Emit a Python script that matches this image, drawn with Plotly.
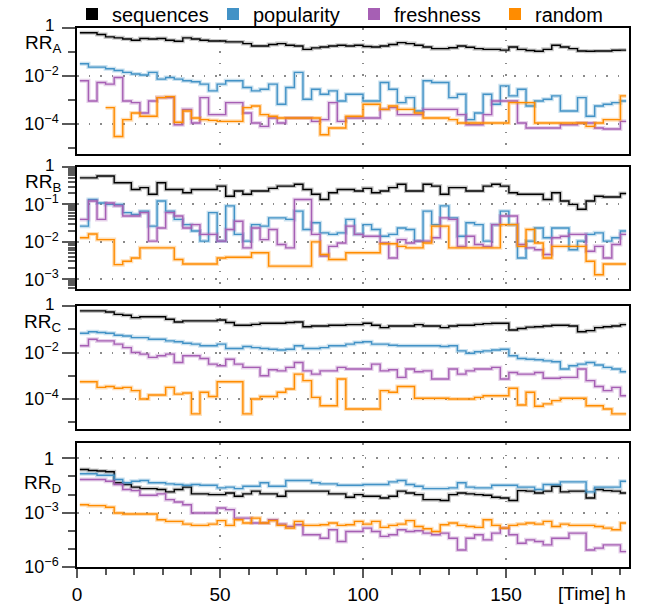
import numpy as np
import plotly.graph_objects as go

# ---------------- data (log10 of RR) ----------------
hours = list(range(1, 191, 3))          # sample times [h]
END_H = 192                             # last step ends here

series_names = ["sequences", "popularity", "freshness", "random"]
colors = ["#000000", "#4292c6", "#a65fb4", "#ff8c00"]
halo = ["rgba(0,0,0,0.22)", "rgba(66,146,198,0.28)", "rgba(166,95,180,0.28)", "rgba(255,140,0,0.28)"]

A_sequences = [-0.20, -0.20, -0.27, -0.37, -0.41, -0.46, -0.51, -0.44, -0.46, -0.44,
               -0.51, -0.55, -0.41, -0.46, -0.51, -0.54, -0.54, -0.58, -0.58, -0.65,
               -0.75, -0.75, -0.69, -0.65, -0.72, -0.75, -0.89, -0.83, -0.79, -0.75,
               -0.72, -0.75, -0.72, -0.77, -0.79, -0.75, -0.69, -0.61, -0.65, -0.72,
               -0.79, -0.86, -0.86, -0.82, -0.75, -0.80, -0.86, -0.89, -0.89, -0.92,
               -0.79, -0.89, -0.94, -0.97, -0.89, -0.72, -0.79, -0.86, -0.96, -0.97,
               -0.96, -0.96, -0.93, -0.92]
A_popularity = [-1.49, -1.63, -1.63, -1.70, -1.77, -1.85, -1.92, -1.96, -1.85, -2.13,
                -2.06, -2.13, -2.20, -2.24, -2.34, -2.62, -2.34, -2.20, -2.20, -2.48,
                -2.62, -2.55, -2.34, -3.18, -2.48, -1.85, -2.97, -2.55, -2.76, -2.62,
                -3.04, -2.76, -2.76, -3.04, -3.04, -2.27, -2.55, -3.11, -2.90, -3.46,
                -2.20, -2.27, -2.27, -2.90, -2.76, -3.82, -3.54, -2.76, -3.18, -2.41,
                -2.83, -2.55, -3.25, -3.04, -2.97, -2.83, -3.46, -3.46, -2.90, -3.68,
                -3.25, -3.18, -3.11, -3.04]
A_freshness = [-2.20, -3.04, -2.27, -2.34, -2.06, -3.04, -3.11, -3.54, -3.04, -2.90,
               -2.90, -4.03, -3.39, -3.96, -2.90, -3.61, -3.61, -3.11, -3.11, -3.54,
               -3.96, -4.10, -3.75, -3.96, -3.75, -3.75, -3.75, -3.89, -3.82, -3.11,
               -3.89, -3.75, -3.75, -3.75, -3.75, -3.39, -3.32, -3.61, -3.61, -3.61,
               -3.39, -3.39, -3.39, -3.39, -3.61, -4.03, -4.03, -3.61, -3.04, -3.04,
               -3.04, -3.96, -4.17, -4.17, -4.17, -4.17, -4.03, -4.03, -3.96, -3.96,
               -4.17, -4.21, -4.21, -3.89]
A_random = [None, None, None, -3.32, -4.52, -3.82, -3.54, -3.68, -3.68, -2.90,
            -2.86, -3.93, -3.46, -3.75, -3.82, -3.85, -3.89, -3.89, -3.89, -3.32,
            -3.25, -3.61, -3.68, -3.75, -3.75, -3.75, -3.75, -3.75, -4.45, -4.17,
            -4.17, -3.68, -3.68, -3.18, -3.18, -3.39, -3.25, -3.39, -3.39, -3.54,
            -3.75, -3.75, -3.75, -3.82, -3.96, -3.96, -3.96, -3.96, -3.96, -3.96,
            -3.11, -3.11, -3.11, -3.96, -3.96, -3.96, -3.96, -3.96, -3.96, -4.10,
            -3.96, -3.82, -3.82, -2.83]

B_sequences = [-0.29, -0.29, -0.24, -0.24, -0.42, -0.42, -0.60, -0.55, -0.73, -0.42,
               -0.60, -0.60, -0.69, -0.60, -0.60, -0.60, -0.51, -0.78, -0.64, -0.73,
               -0.64, -0.64, -0.57, -0.51, -0.51, -0.46, -0.60, -0.73, -0.87, -0.69,
               -0.60, -0.60, -0.64, -0.57, -0.69, -0.64, -0.55, -0.46, -0.64, -0.64,
               -0.46, -0.51, -0.73, -0.55, -0.55, -0.64, -0.64, -0.51, -0.46, -0.51,
               -0.69, -0.73, -0.73, -0.73, -0.87, -0.69, -0.91, -1.00, -1.13, -0.91,
               -0.78, -0.80, -0.80, -0.71]
B_popularity = [-1.58, -0.87, -0.96, -1.00, -1.00, -1.22, -1.27, -1.18, -1.58, -0.91,
                -1.18, -1.40, -1.54, -1.71, -1.98, -1.22, -1.98, -1.04, -1.80, -1.98,
                -1.54, -1.58, -1.36, -1.36, -1.40, -1.18, -1.67, -1.49, -1.76, -1.80,
                -1.76, -1.40, -1.80, -1.54, -1.67, -1.85, -1.80, -1.63, -1.67, -1.98,
                -1.18, -1.54, -1.04, -1.36, -1.85, -1.49, -1.54, -1.98, -1.54, -1.18,
                -1.54, -2.43, -1.98, -1.63, -1.89, -1.63, -1.63, -2.21, -1.98, -1.80,
                -1.76, -1.98, -1.89, -1.71]
B_freshness = [-1.40, -0.91, -1.40, -0.96, -1.04, -1.31, -1.31, -1.22, -1.98, -1.63,
               -1.22, -1.31, -1.63, -1.54, -1.80, -1.80, -1.98, -1.67, -1.45, -2.16,
               -1.63, -1.94, -1.67, -2.07, -2.16, -0.87, -0.87, -1.80, -2.38, -2.12,
               -2.03, -1.58, -1.80, -1.85, -1.85, -2.03, -2.43, -1.94, -2.03, -1.98,
               -1.98, -1.89, -1.36, -1.40, -2.12, -1.85, -2.07, -2.12, -1.54, -1.31,
               -1.31, -2.07, -2.16, -2.21, -2.34, -1.89, -1.85, -1.80, -1.80, -2.25,
               -2.12, -2.43, -2.07, -1.80]
B_random = [-1.89, -1.79, -1.94, -1.94, -2.61, -2.52, -2.43, -2.16, -2.16, -2.16,
            -2.16, -2.47, -2.59, -2.59, -2.59, -2.59, -2.43, -2.41, -2.41, -2.41,
            -2.29, -2.29, -2.65, -2.65, -2.65, -2.65, -2.65, -2.00, -2.34, -2.47,
            -2.47, -2.29, -2.29, -2.29, -2.29, -2.05, -2.05, -2.12, -2.16, -2.16,
            -2.03, -1.58, -1.58, -2.16, -2.16, -2.16, -2.16, -2.16, -2.16, -1.54,
            -1.54, -2.12, -1.67, -2.03, -2.43, -2.12, -2.12, -2.12, -2.12, -2.52,
            -2.88, -2.59, -2.59, -2.59]

C_sequences = [-0.21, -0.21, -0.21, -0.26, -0.36, -0.40, -0.50, -0.46, -0.46, -0.46,
               -0.57, -0.69, -0.64, -0.64, -0.64, -0.64, -0.60, -0.71, -0.83, -0.83,
               -0.79, -0.74, -0.74, -0.74, -0.71, -0.69, -0.89, -0.86, -0.86, -0.83,
               -0.83, -0.80, -0.80, -0.74, -0.83, -0.93, -0.86, -0.86, -0.86, -0.80,
               -0.86, -0.86, -0.93, -0.86, -0.83, -0.83, -0.79, -0.76, -0.74, -0.74,
               -1.03, -0.97, -0.91, -0.89, -0.86, -0.83, -0.83, -0.86, -1.11, -1.06,
               -0.93, -0.89, -0.86, -0.80]
C_popularity = [-1.17, -1.11, -1.14, -1.17, -1.26, -1.29, -1.36, -1.36, -1.43, -1.43,
                -1.50, -1.54, -1.60, -1.64, -1.71, -1.71, -1.64, -1.83, -1.83, -1.74,
                -1.79, -1.83, -1.86, -1.89, -1.86, -1.71, -1.83, -1.83, -1.79, -1.71,
                -1.71, -1.64, -1.57, -1.54, -1.64, -1.64, -1.69, -1.71, -1.71, -1.71,
                -1.71, -1.71, -1.74, -1.71, -1.93, -2.03, -1.97, -1.93, -1.89, -1.86,
                -2.14, -2.26, -2.29, -2.31, -2.36, -2.40, -2.71, -2.57, -2.50, -2.43,
                -2.54, -2.64, -2.71, -2.83]
C_freshness = [-1.71, -1.43, -1.50, -1.50, -1.64, -1.79, -2.00, -2.07, -2.21, -2.14,
               -2.07, -2.43, -2.14, -2.14, -2.26, -2.50, -2.57, -2.29, -2.50, -2.64,
               -2.64, -3.00, -2.74, -2.79, -2.64, -2.43, -2.79, -2.93, -2.79, -2.79,
               -2.64, -2.71, -2.71, -2.71, -2.50, -2.79, -2.74, -3.07, -2.71, -2.83,
               -2.79, -3.14, -3.14, -2.71, -2.93, -2.79, -2.71, -2.71, -2.64, -3.14,
               -2.86, -2.93, -2.93, -2.86, -3.11, -3.11, -3.07, -3.07, -2.71, -3.21,
               -3.46, -3.64, -3.50, -3.86]
C_random = [-3.26, -3.26, -3.50, -3.46, -3.54, -3.50, -3.64, -4.00, -3.83, -3.83,
            -3.50, -3.79, -3.74, -4.64, -3.71, -3.89, -3.26, -3.26, -3.26, -4.64,
            -4.00, -3.89, -3.89, -3.71, -3.57, -2.93, -3.21, -3.93, -4.29, -4.29,
            -3.14, -4.43, -4.43, -4.43, -4.43, -3.64, -3.71, -3.46, -3.46, -3.97,
            -3.97, -3.97, -3.97, -4.00, -4.00, -4.00, -3.93, -3.86, -3.86, -3.86,
            -3.54, -4.26, -3.71, -4.31, -4.21, -4.07, -3.97, -3.97, -3.97, -4.29,
            -4.29, -4.43, -4.64, -4.64]

D_sequences = [-0.61, -0.67, -0.70, -0.74, -1.35, -1.44, -1.59, -1.67, -1.67, -1.72,
               -1.85, -1.72, -1.59, -1.96, -1.96, -2.00, -2.00, -1.91, -2.09, -1.96,
               -1.81, -1.96, -1.96, -2.09, -1.81, -1.81, -1.81, -1.81, -1.81, -1.96,
               -1.96, -2.15, -2.00, -2.09, -2.09, -2.19, -2.09, -1.81, -1.91, -2.00,
               -2.28, -2.28, -2.33, -2.00, -1.91, -1.96, -2.00, -2.04, -2.15, -2.19,
               -2.33, -1.78, -1.81, -1.91, -1.81, -1.54, -1.85, -1.81, -1.81, -2.19,
               -1.72, -1.78, -1.81, -1.91]
D_popularity = [-0.85, -0.85, -0.93, -0.93, -1.17, -1.35, -1.26, -1.22, -1.35, -1.35,
                -1.41, -1.44, -1.48, -1.44, -1.48, -1.48, -1.63, -1.59, -1.67, -1.54,
                -1.54, -1.35, -1.54, -1.54, -1.22, -1.22, -1.22, -1.35, -1.41, -1.41,
                -1.48, -1.48, -1.48, -1.44, -1.44, -1.44, -1.30, -1.22, -1.44, -1.54,
                -1.67, -1.67, -1.67, -1.63, -1.35, -1.59, -1.63, -1.63, -1.48, -1.48,
                -1.48, -1.59, -1.59, -1.72, -1.44, -1.44, -1.30, -1.30, -1.30, -1.85,
                -1.59, -1.59, -1.59, -1.26]
D_freshness = [-1.17, -1.17, -1.17, -1.26, -1.44, -1.72, -1.78, -2.04, -2.04, -1.96,
               -2.28, -2.41, -2.56, -3.02, -3.02, -3.02, -2.74, -2.83, -3.30, -3.30,
               -3.57, -3.57, -3.39, -3.63, -3.76, -3.67, -4.22, -4.22, -4.41, -3.94,
               -4.59, -4.04, -4.04, -3.85, -4.04, -4.31, -4.22, -3.94, -4.04, -4.00,
               -4.13, -4.22, -4.13, -4.41, -5.06, -4.41, -4.22, -4.50, -4.13, -3.85,
               -4.22, -4.69, -4.50, -4.59, -4.78, -4.41, -4.41, -4.13, -4.13, -5.06,
               -4.96, -4.78, -4.78, -5.15]
D_random = [-2.56, -2.61, -2.61, -2.70, -3.02, -3.07, -3.07, -3.07, -3.07, -3.39,
            -3.48, -3.48, -3.63, -3.70, -3.70, -3.63, -3.44, -3.70, -3.39, -3.57,
            -3.30, -3.57, -3.44, -3.70, -3.85, -3.48, -3.70, -3.70, -3.67, -3.57,
            -3.70, -3.67, -3.48, -3.63, -3.48, -3.81, -3.70, -3.63, -3.44, -3.76,
            -3.89, -4.04, -3.67, -3.57, -3.70, -3.76, -3.81, -3.39, -3.70, -3.85,
            -3.70, -3.63, -3.57, -3.63, -3.48, -3.76, -3.63, -3.70, -3.70, -3.70,
            -3.76, -3.85, -3.94, -3.57]

panels = [
    ("A", [A_sequences, A_popularity, A_freshness, A_random]),
    ("B", [B_sequences, B_popularity, B_freshness, B_random]),
    ("C", [C_sequences, C_popularity, C_freshness, C_random]),
    ("D", [D_sequences, D_popularity, D_freshness, D_random]),
]

# ---------------- layout geometry ----------------
W, H = 646, 605
ML, MR, MT, MB = 77, 17, 28, 38
PW, PH = W - ML - MR, H - MT - MB


def ypaper(pix):
    return (H - MB - pix) / PH


def xpaper(pix):
    return (pix - ML) / PW


domains = {
    "A": [ypaper(153.5), ypaper(28)],
    "B": [ypaper(289), ypaper(167)],
    "C": [ypaper(429), ypaper(306)],
    "D": [ypaper(567), ypaper(443)],
}
yranges = {"A": [-5.23, 0], "B": [-3.26, 0], "C": [-5.29, 0], "D": [-6, 0.85]}

sup = lambda e: "10<sup>\u2212%d</sup>" % e
ymajor = {
    "A": ([1, 1e-2, 1e-4], ["", sup(2), sup(4)]),
    "B": ([1, 1e-1, 1e-2, 1e-3], ["", sup(1), sup(2), sup(3)]),
    "C": ([1, 1e-2, 1e-4], ["", sup(2), sup(4)]),
    "D": ([1, 1e-3, 1e-6], ["", sup(3), sup(6)]),
}
yminor = {
    "A": [1e-1, 1e-3, 1e-5],
    "B": [k * 10.0 ** d for d in (-1, -2, -3, -4) for k in range(2, 10)],
    "C": [1e-1, 1e-3, 1e-5],
    "D": [1e-1, 1e-2, 1e-4, 1e-5],
}
# position of the "1" label of each panel (pixel y) and of the RR label
one_y = {"A": 26, "B": 165, "C": 304, "D": 459}
label_y = {"A": 44, "B": 183, "C": 323, "D": 484}

FONT = "Liberation Sans, Arial, Helvetica, sans-serif"
TICKC = "#595959"
GRIDC = "#8a8a8a"
GRIDDASH = "1.5px,10px"

fig = go.Figure()

for i, (key, series) in enumerate(panels):
    ax = "" if i == 0 else str(i + 1)
    xref, yref = "x" + ax, "y" + ax
    for s, vals in enumerate(series):
        n = len(vals)
        xs = hours[:n] + [END_H]
        logs = vals + [vals[-1]]
        ys = [None if v is None else 10.0 ** v for v in logs]
        fig.add_trace(go.Scatter(x=xs, y=ys, mode="lines", line=dict(color=halo[s], width=4, shape="hv"),
                                 xaxis=xref, yaxis=yref, showlegend=False, hoverinfo="skip"))
        fig.add_trace(go.Scatter(x=xs, y=ys, mode="lines", line=dict(color=colors[s], width=1.4, shape="hv"),
                                 xaxis=xref, yaxis=yref, showlegend=False, name=series_names[s]))

    last = (i == 3)
    xa = dict(domain=[0, 1], range=[0, 193], anchor=yref, showline=True, linecolor="black",
              linewidth=1.5, mirror=True, zeroline=False, automargin=False,
              showgrid=True, gridcolor=GRIDC, griddash=GRIDDASH, gridwidth=1.5,
              tickmode="array", tickvals=[0, 50, 100, 150] if last else [50, 100, 150],
              ticks="outside" if last else "", showticklabels=last,
              ticklen=9, tickwidth=2, tickcolor=TICKC,
              tickfont=dict(size=19, color="black", family=FONT))
    if last:
        xa["minor"] = dict(tickmode="array", tickvals=[v for v in range(10, 193, 10) if v % 50],
                           ticks="outside", ticklen=6, tickwidth=2, tickcolor=TICKC, showgrid=False)
    else:
        xa["matches"] = "x4"
    tv, tt = ymajor[key]
    ya = dict(type="log", domain=domains[key], range=yranges[key], anchor=xref,
              showline=True, linecolor="black", linewidth=1.5, mirror=True, zeroline=False,
              automargin=False,
              tickmode="array", tickvals=tv, ticktext=tt, ticks="outside",
              ticklen=13, tickwidth=2, tickcolor=TICKC,
              tickfont=dict(size=18, color="black", family=FONT),
              showgrid=True, gridcolor=GRIDC, griddash=GRIDDASH, gridwidth=1.5,
              minor=dict(tickmode="array", tickvals=yminor[key], ticks="outside",
                         ticklen=7, tickwidth=2, tickcolor=TICKC, showgrid=False))
    fig.layout["xaxis" + ax] = xa
    fig.layout["yaxis" + ax] = ya

    # "1" label at the top of the axis and the RR_x panel label
    fig.add_annotation(text="1", xref="paper", yref="paper", x=xpaper(56), y=ypaper(one_y[key]),
                       xanchor="right", yanchor="middle", showarrow=False,
                       font=dict(size=18 if last else 17, color="black", family=FONT))
    fig.add_annotation(text="RR<sub>%s</sub>" % key, xref="paper", yref="paper",
                       x=xpaper(42.5), y=ypaper(label_y[key]), xanchor="center", yanchor="middle",
                       showarrow=False, font=dict(size=19, color="black", family=FONT))

# legend entries as coloured squares
for s in range(4):
    fig.add_trace(go.Scatter(x=[None], y=[None], mode="markers", name=series_names[s],
                             marker=dict(symbol="square", size=14, color=colors[s]),
                             showlegend=True))

fig.add_annotation(text="[Time] h", xref="paper", yref="paper", x=xpaper(628),
                   y=ypaper(593), xanchor="right", yanchor="middle", showarrow=False,
                   font=dict(size=19, color="black", family=FONT))

fig.update_layout(
    width=W, height=H, margin=dict(l=ML, r=MR, t=MT, b=MB, autoexpand=False),
    paper_bgcolor="white", plot_bgcolor="white",
    font=dict(family=FONT, color="black"),
    legend=dict(orientation="h", x=xpaper(72), xanchor="left", xref="paper",
                y=ypaper(14), yanchor="middle", yref="paper",
                entrywidth=96, entrywidthmode="pixels",
                font=dict(size=20, family=FONT), itemsizing="constant", bgcolor="rgba(0,0,0,0)"),
)

fig.write_html("out.html", config={"displayModeBar": False},
               post_script="document.body.style.margin='0';document.body.style.overflow='hidden';")
